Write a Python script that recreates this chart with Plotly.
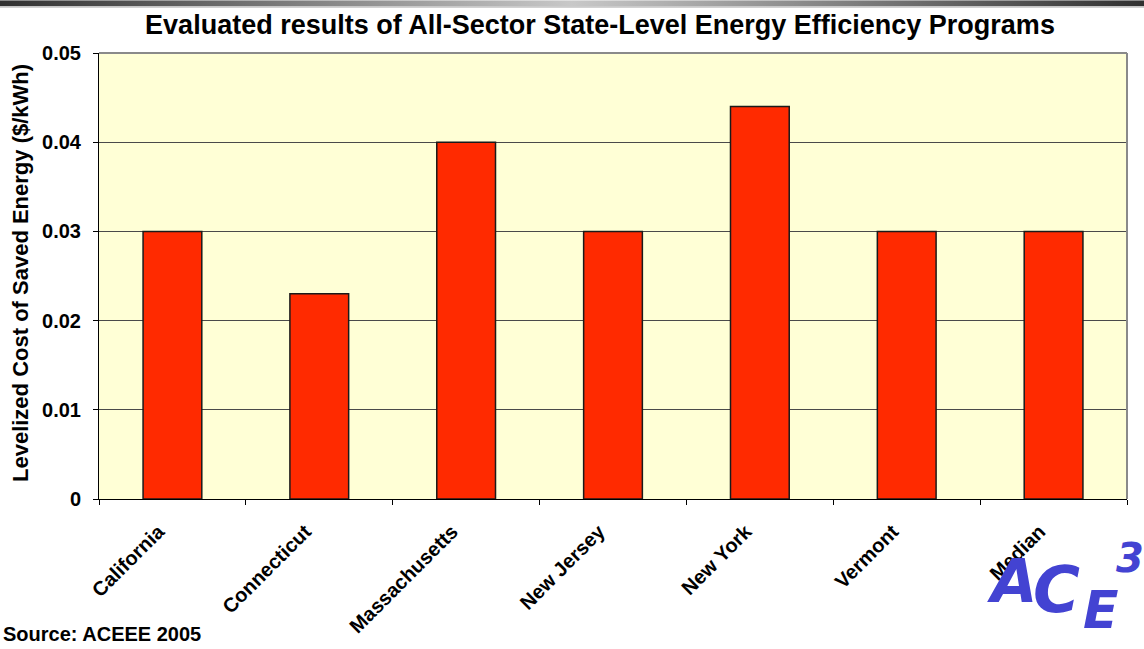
import plotly.graph_objects as go

categories = ["California", "Connecticut", "Massachusetts", "New Jersey", "New York", "Vermont", "Median"]
values = [0.030, 0.023, 0.040, 0.030, 0.044, 0.030, 0.030]
y_ticks = [0, 0.01, 0.02, 0.03, 0.04, 0.05]
y_tick_labels = ["0", "0.01", "0.02", "0.03", "0.04", "0.05"]

FONT = "Liberation Sans, Arial, sans-serif"
W, H = 1144, 649
L, R, T, B = 99, 17, 53, 148
PW, PH = W - L - R, H - T - B


def px(x):
    return (x - L) / PW


def py(y):
    return (H - B - y) / PH


fig = go.Figure()
fig.add_trace(go.Bar(
    x=categories, y=values,
    marker=dict(color="#ff2a00", line=dict(color="#1a1a1a", width=1.5)),
    width=0.4,
))

grad_svg = (
    "data:image/svg+xml;utf8,"
    "<svg xmlns='http://www.w3.org/2000/svg' width='1144' height='10' preserveAspectRatio='none'>"
    "<defs><linearGradient id='g' x1='0' x2='1' y1='0' y2='0'>"
    "<stop offset='0' stop-color='%23303030'/>"
    "<stop offset='0.5' stop-color='%23c8c8c8'/>"
    "<stop offset='1' stop-color='%23303030'/>"
    "</linearGradient></defs>"
    "<rect x='0' y='0' width='1144' height='6' fill='url(%23g)'/>"
    "<rect x='0' y='6' width='1144' height='1.5' fill='%23c0c0c0'/>"
    "</svg>"
)

fig.update_layout(
    width=W, height=H,
    margin=dict(l=L, r=R, t=T, b=B),
    paper_bgcolor="white",
    plot_bgcolor="#ffffd6",
    showlegend=False,
    font=dict(family=FONT, color="black"),
    title=dict(
        text="<b>Evaluated results of All-Sector State-Level Energy Efficiency Programs</b>",
        x=600 / W, xanchor="center", y=1 - 25 / H, yanchor="middle",
        font=dict(size=27, family=FONT, color="black"),
    ),
    xaxis=dict(
        tickangle=-45,
        tickfont=dict(size=20, family=FONT, color="black"),
        showline=True, linecolor="black", linewidth=1,
        ticks="outside", ticklen=5, tickcolor="black",
        tickson="boundaries",
        ticklabelstandoff=12, ticklabelshift=-14,
        showgrid=False,
        tickvals=categories,
        ticktext=["<b>%s</b>" % c for c in categories],
    ),
    yaxis=dict(
        range=[0, 0.05],
        tickvals=y_ticks, ticktext=["<b>%s</b>" % t for t in y_tick_labels],
        tickfont=dict(size=20, family=FONT, color="black"),
        showline=True, linecolor="black", linewidth=1,
        ticks="outside", ticklen=5, tickcolor="black",
        ticklabelstandoff=8,
        showgrid=True, gridcolor="#4a4a4a", gridwidth=1,
        zeroline=False,
    ),
    bargap=0.6,
    images=[dict(source=grad_svg, xref="paper", yref="paper", x=px(0), y=py(0),
                 sizex=W / PW, sizey=10 / PH, xanchor="left", yanchor="top",
                 sizing="stretch", layer="above")],
)

# y-axis title
fig.add_annotation(text="<b>Levelized Cost of Saved Energy ($/kWh)</b>", xref="paper", yref="paper",
                   x=px(20), y=py(274), xanchor="center", yanchor="middle", textangle=-90,
                   showarrow=False, font=dict(size=22, family=FONT, color="black"))

# plot border on top and right
fig.add_shape(type="line", xref="paper", yref="paper", x0=0, x1=1, y0=1, y1=1,
              line=dict(color="#8a8a8a", width=2))
fig.add_shape(type="line", xref="paper", yref="paper", x0=1, x1=1, y0=0, y1=1,
              line=dict(color="#8a8a8a", width=2))

# source note
fig.add_annotation(text="<b>Source: ACEEE 2005</b>", xref="paper", yref="paper",
                   x=px(1), y=py(624), xanchor="left", yanchor="top",
                   showarrow=False, font=dict(size=20, family=FONT, color="black"))

# logo letters
logo_color = "#4343d2"
for txt, cx, cy, sz in [("A", 1012, 583, 60), ("C", 1056, 592, 64), ("E", 1101, 612, 52), ("3", 1130, 560, 40)]:
    fig.add_annotation(text="<b><i>%s</i></b>" % txt, xref="paper", yref="paper",
                       x=px(cx), y=py(cy),
                       xanchor="center", yanchor="middle", showarrow=False,
                       font=dict(size=sz, family="DejaVu Sans, sans-serif", color=logo_color))

fig.write_html("out.html", config={"displayModeBar": False},
               post_script="document.body.style.margin='0px';document.body.style.overflow='hidden';")
